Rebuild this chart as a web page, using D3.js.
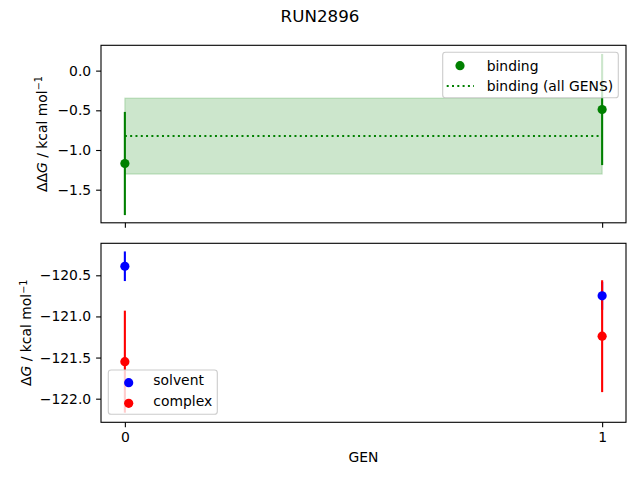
<!DOCTYPE html>
<html>
<head>
<meta charset="utf-8">
<script src="https://cdn.jsdelivr.net/npm/d3@7"></script>
<style>
	body { margin: 0; background: #fff; }
	svg { font-family: 'DejaVu Sans', sans-serif; }
</style>
</head>
<body>
<div class="chart"></div>
<script>
'use strict';

// data
var gens = [0, 1];
var genTicks = [0, 1];

var bindingValues = [-1.17, -0.49];
var bindingErrors = [0.65, 0.70];
var bindingAllValue = [-0.825];
var bindingAllError = [0.478];

var solventValues = [-120.39, -120.75];
var solventErrors = [0.18, 0.17];
var complexValues = [-121.55, -121.24];
var complexErrors = [0.62, 0.68];

var topTicks = [0.0, -0.5, -1.0, -1.5];
var bottomTicks = [-120.5, -121.0, -121.5, -122.0];

var topLegend = ['binding', 'binding (all GENS)'];
var bottomLegend = ['solvent', 'complex'];

var GREEN = '#008000';
var BLUE = '#0000ff';
var RED = '#ff0000';
var TICK_FONT = 13.9;
var MARKER_R = 4.6;

var width = 640, height = 480;
var left = 101, right = 626;
var topBox = {top: 45.3, bottom: 222.8};
var botBox = {top: 243.3, bottom: 422.3};

var svg = d3.select('.chart').append('svg')
	.attr('width', width)
	.attr('height', height);

var x = d3.scaleLinear().domain([-0.05, 1.05]).range([left, right]);
var yTop = d3.scaleLinear().domain([-1.917, 0.319]).range([topBox.bottom, topBox.top]);
var yBot = d3.scaleLinear().domain([-122.287, -120.111]).range([botBox.bottom, botBox.top]);

var fmt = function(d) { return d3.format('.1f')(d).replace('-', '\u2212'); };

// title
svg.append('text')
	.attr('x', 320)
	.attr('y', 22)
	.attr('text-anchor', 'middle')
	.style('font-size', '16.7px')
	.text('RUN2896');

function drawAxes(y, box, ticks, showX) {
	var g = svg.append('g');
	var yAxis = d3.axisLeft(y).tickValues(ticks).tickFormat(fmt)
		.tickSize(4.9).tickPadding(4.9).tickSizeOuter(0);
	var ya = g.append('g').attr('transform', 'translate(' + left + ',0)').call(yAxis);
	ya.select('.domain').remove();
	ya.selectAll('text').style('font-size', TICK_FONT + 'px').attr('fill', '#000')
		.style('font-family', 'DejaVu Sans');
	ya.selectAll('line').attr('stroke-width', 1.1);

	var xAxis = d3.axisBottom(x).tickValues(genTicks).tickFormat(showX ? d3.format('d') : '')
		.tickSize(4.9).tickPadding(4.9).tickSizeOuter(0);
	var xa = g.append('g').attr('transform', 'translate(0,' + box.bottom + ')').call(xAxis);
	xa.select('.domain').remove();
	xa.selectAll('text').style('font-size', TICK_FONT + 'px').attr('fill', '#000')
		.style('font-family', 'DejaVu Sans');
	xa.selectAll('line').attr('stroke-width', 1.1);
	return g;
}

function drawFrame(box) {
	svg.append('rect')
		.attr('x', left)
		.attr('y', box.top)
		.attr('width', right - left)
		.attr('height', box.bottom - box.top)
		.attr('fill', 'none')
		.attr('stroke', '#000')
		.attr('stroke-width', 1.1);
}

function drawErrorBars(g, y, values, errors, color) {
	g.selectAll(null)
		.data(values)
		.enter().append('line')
		.attr('x1', function(d, i) { return x(gens[i]); })
		.attr('x2', function(d, i) { return x(gens[i]); })
		.attr('y1', function(d, i) { return y(d + errors[i]); })
		.attr('y2', function(d, i) { return y(d - errors[i]); })
		.attr('stroke', color)
		.attr('stroke-width', 2.1);
}

function drawPoints(g, y, values, color) {
	g.selectAll(null)
		.data(values)
		.enter().append('circle')
		.attr('cx', function(d, i) { return x(gens[i]); })
		.attr('cy', function(d) { return y(d); })
		.attr('r', MARKER_R)
		.attr('fill', color);
}

function drawYLabel(xPos, box, prefix) {
	var t = svg.append('text')
		.attr('transform', 'translate(' + xPos + ',' + ((box.top + box.bottom) / 2) + ') rotate(-90)')
		.attr('text-anchor', 'middle')
		.attr('dy', '0.35em')
		.style('font-size', TICK_FONT + 'px');
	t.append('tspan').text(prefix);
	t.append('tspan').style('font-style', 'italic').text('G');
	t.append('tspan').text(' / kcal mol');
	t.append('tspan').attr('dy', '-0.45em').style('font-size', '9.7px').text('\u22121');
}

// ---------- top panel ----------
drawAxes(yTop, topBox, topTicks, false);
var topPlot = svg.append('g');

topPlot.selectAll(null)
	.data(bindingAllValue)
	.enter().append('rect')
	.attr('x', x(gens[0]))
	.attr('width', x(gens[gens.length - 1]) - x(gens[0]))
	.attr('y', function(d, i) { return yTop(d + bindingAllError[i]); })
	.attr('height', function(d, i) { return yTop(d - bindingAllError[i]) - yTop(d + bindingAllError[i]); })
	.attr('fill', GREEN)
	.attr('fill-opacity', 0.2)
	.attr('stroke', GREEN)
	.attr('stroke-opacity', 0.2)
	.attr('stroke-width', 1.2);

topPlot.selectAll(null)
	.data(bindingAllValue)
	.enter().append('line')
	.attr('x1', x(gens[0]))
	.attr('x2', x(gens[gens.length - 1]))
	.attr('y1', function(d) { return yTop(d); })
	.attr('y2', function(d) { return yTop(d); })
	.attr('stroke', GREEN)
	.attr('stroke-width', 2)
	.attr('stroke-dasharray', '2,3.3');

drawErrorBars(topPlot, yTop, bindingValues, bindingErrors, GREEN);
drawPoints(topPlot, yTop, bindingValues, GREEN);
drawFrame(topBox);
drawYLabel(41.7, topBox, '\u0394\u0394');

// top legend
var tl = svg.append('g');
tl.append('rect')
	.attr('x', 442.7).attr('y', 52.3)
	.attr('width', 175.6).attr('height', 45.4)
	.attr('rx', 2.8)
	.attr('fill', '#fff').attr('fill-opacity', 0.8)
	.attr('stroke', '#cccccc').attr('stroke-width', 1.1);
tl.append('circle').attr('cx', 460).attr('cy', 65.7).attr('r', MARKER_R).attr('fill', GREEN);
tl.append('line')
	.attr('x1', 446.7).attr('x2', 474).attr('y1', 86).attr('y2', 86)
	.attr('stroke', GREEN).attr('stroke-width', 2).attr('stroke-dasharray', '2,3.3');
tl.selectAll('text.legend')
	.data(topLegend)
	.enter().append('text')
	.attr('class', 'legend')
	.attr('x', 486.7)
	.attr('y', function(d, i) { return 65.7 + i * 20.3; })
	.attr('dy', '0.35em')
	.style('font-size', TICK_FONT + 'px')
	.text(function(d) { return d; });

// ---------- bottom panel ----------
drawAxes(yBot, botBox, bottomTicks, true);
var botPlot = svg.append('g');
drawErrorBars(botPlot, yBot, solventValues, solventErrors, BLUE);
drawErrorBars(botPlot, yBot, complexValues, complexErrors, RED);
drawPoints(botPlot, yBot, solventValues, BLUE);
drawPoints(botPlot, yBot, complexValues, RED);
drawFrame(botBox);
drawYLabel(26, botBox, '\u0394');

// bottom legend
var bl = svg.append('g');
var legendColors = [BLUE, RED];
bl.append('rect')
	.attr('x', 108.3).attr('y', 370)
	.attr('width', 109).attr('height', 44.3)
	.attr('rx', 2.8)
	.attr('fill', '#fff').attr('fill-opacity', 0.8)
	.attr('stroke', '#cccccc').attr('stroke-width', 1.1);
bl.selectAll('circle')
	.data(bottomLegend)
	.enter().append('circle')
	.attr('cx', 128.7)
	.attr('cy', function(d, i) { return 382.7 + i * 20.6; })
	.attr('r', MARKER_R)
	.attr('fill', function(d, i) { return legendColors[i]; });
bl.selectAll('text')
	.data(bottomLegend)
	.enter().append('text')
	.attr('x', 153.3)
	.attr('y', function(d, i) { return 380.5 + i * 20.6; })
	.attr('dy', '0.35em')
	.style('font-size', TICK_FONT + 'px')
	.text(function(d) { return d; });

// x label
svg.append('text')
	.attr('x', (left + right) / 2)
	.attr('y', 462)
	.attr('text-anchor', 'middle')
	.style('font-size', TICK_FONT + 'px')
	.text('GEN');
</script>
</body>
</html>
